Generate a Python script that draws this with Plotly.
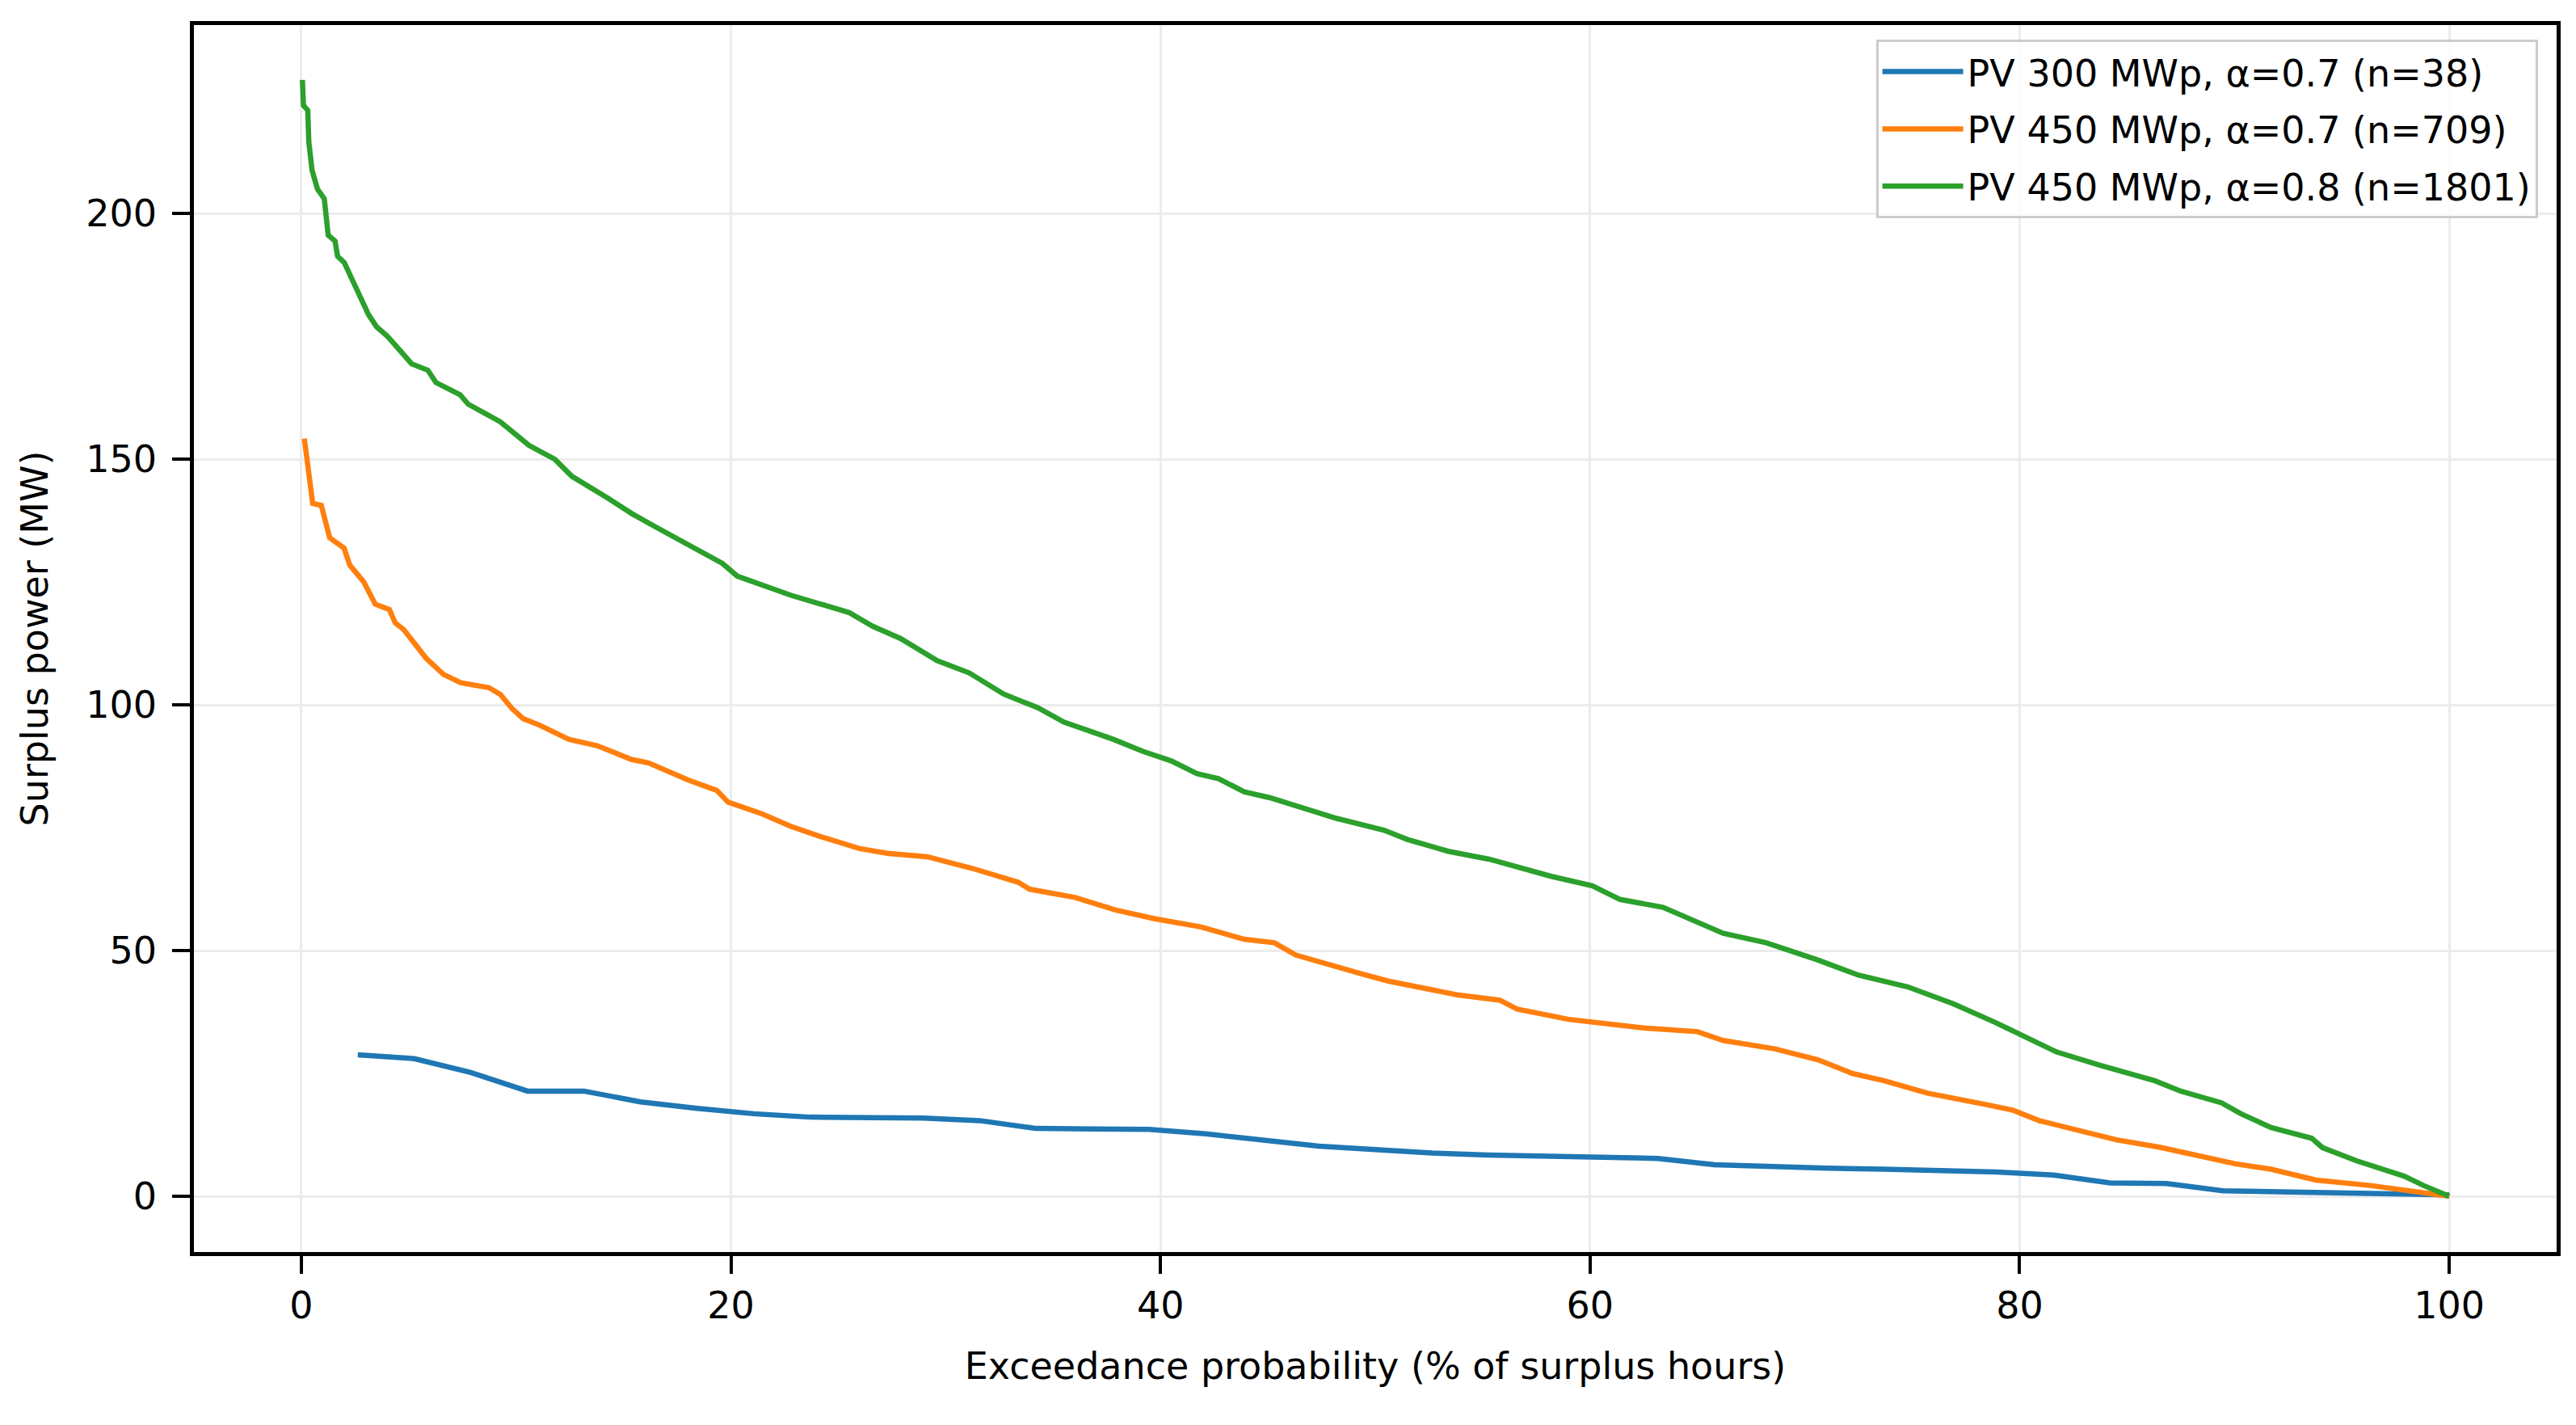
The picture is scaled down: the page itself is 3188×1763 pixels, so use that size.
import plotly.graph_objects as go

# ---- Data ----
series_names = [
    "PV 300 MWp, α=0.7 (n=38)",
    "PV 450 MWp, α=0.7 (n=709)",
    "PV 450 MWp, α=0.8 (n=1801)",
]
series_colors = ["#1f77b4", "#ff7f0e", "#2ca02c"]

# PV 300 MWp, alpha 0.7 : 38 surplus hours, exceedance i/38*100
blue_x = [2.63, 5.26, 7.89, 10.53, 13.16, 15.79, 18.42, 21.05, 23.68, 26.32,
          28.95, 31.58, 34.21, 36.84, 39.47, 42.11, 44.74, 47.37, 50.0, 52.63,
          55.26, 57.89, 60.53, 63.16, 65.79, 68.42, 71.05, 73.68, 76.32, 78.95,
          81.58, 84.21, 86.84, 89.47, 92.11, 94.74, 97.37, 100.0]
blue_y = [28.8, 28.0, 25.2, 21.4, 21.4, 19.2, 17.9, 16.8, 16.1, 15.9,
          15.9, 15.4, 13.8, 13.7, 13.6, 12.7, 11.4, 10.2, 9.5, 8.8,
          8.4, 8.1, 7.9, 7.7, 6.4, 6.0, 5.7, 5.5, 5.2, 4.95,
          4.3, 2.7, 2.6, 1.1, 0.9, 0.7, 0.5, 0.3]

# PV 450 MWp, alpha 0.7 : 709 surplus hours (read points)
orange_x = [0.14, 0.53, 0.93, 1.32, 1.99, 2.25, 2.91, 3.44, 4.1, 4.37,
            4.77, 5.83, 6.62, 7.42, 8.74, 9.27, 9.8, 10.33, 11.13, 12.45,
            13.77, 15.36, 16.16, 18.01, 19.34, 19.87, 21.46, 22.78, 24.1, 25.96,
            27.28, 29.14, 31.26, 33.38, 33.9, 36.03, 37.88, 39.7, 41.9, 43.9,
            45.3, 46.3, 49.4, 50.6, 53.8, 55.8, 56.6, 59.0, 62.6, 65.0,
            66.2, 68.6, 70.6, 72.2, 73.7, 75.7, 78.5, 79.7, 80.9, 82.5,
            84.5, 86.5, 88.8, 90.05, 91.7, 93.8, 96.3, 98.8, 100.0]
orange_y = [154.2, 141.0, 140.6, 134.0, 131.9, 128.5, 125.0, 120.5, 119.4, 116.7,
            115.3, 109.4, 106.2, 104.5, 103.5, 102.1, 99.3, 97.2, 95.8, 93.0,
            91.7, 88.9, 88.2, 84.7, 82.6, 80.2, 77.8, 75.3, 73.3, 70.8,
            69.8, 69.1, 66.7, 63.9, 62.5, 60.8, 58.3, 56.5, 54.8, 52.3,
            51.6, 49.1, 45.2, 43.8, 41.0, 39.9, 38.1, 36.0, 34.2, 33.5,
            31.7, 30.0, 27.8, 25.0, 23.5, 21.0, 18.6, 17.5, 15.4, 13.6,
            11.5, 10.0, 7.7, 6.6, 5.5, 3.3, 2.2, 0.85, 0.0]

# PV 450 MWp, alpha 0.8 : 1801 surplus hours (read points)
green_x = [0.05, 0.1, 0.3, 0.35, 0.5, 0.75, 1.07, 1.25, 1.57, 1.69,
           2.0, 2.32, 2.63, 3.13, 3.51, 4.01, 4.64, 5.14, 5.89, 6.27,
           7.39, 7.77, 9.27, 10.0, 10.6, 11.8, 12.6, 14.3, 15.4, 16.5,
           18.3, 19.6, 20.3, 22.8, 25.5, 26.6, 27.9, 29.6, 31.1, 32.7,
           34.3, 35.5, 37.8, 39.2, 40.5, 41.7, 42.7, 43.9, 45.1, 46.6,
           48.2, 50.4, 51.5, 53.4, 55.3, 58.2, 60.1, 61.4, 63.4, 66.2,
           68.2, 70.6, 72.5, 74.8, 76.9, 78.9, 80.5, 81.7, 83.7, 86.3,
           87.5, 89.4, 90.3, 91.7, 93.6, 94.1, 95.7, 97.2, 97.9, 98.8, 100.0]
green_y = [227.2, 222.0, 221.0, 214.5, 208.8, 205.0, 203.0, 195.6, 194.4, 191.3,
           190.0, 186.9, 184.4, 179.4, 176.9, 175.0, 171.9, 169.4, 168.1, 165.6,
           163.1, 161.2, 157.6, 155.0, 152.8, 150.0, 146.5, 142.0, 138.9, 136.2,
           131.9, 128.8, 126.2, 122.3, 118.8, 116.0, 113.5, 109.0, 106.5, 102.2,
           99.4, 96.5, 93.0, 90.5, 88.6, 86.0, 85.0, 82.3, 81.1, 79.2,
           76.9, 74.5, 72.6, 70.2, 68.6, 65.1, 63.2, 60.4, 58.8, 53.5,
           51.6, 48.1, 45.0, 42.6, 39.2, 35.3, 32.0, 29.4, 26.7, 23.5,
           21.4, 19.0, 16.8, 14.0, 11.8, 9.9, 7.2, 5.0, 4.1, 2.2, 0.0]

x_tick_vals = [0, 20, 40, 60, 80, 100]
y_tick_vals = [0, 50, 100, 150, 200]
x_title = "Exceedance probability (% of surplus hours)"
y_title = "Surplus power (MW)"

# ---- Figure ----
FONT = "DejaVu Sans"
fig = go.Figure()
for i, (name, color, xs, ys) in enumerate(zip(series_names, series_colors,
                                               [blue_x, orange_x, green_x],
                                               [blue_y, orange_y, green_y])):
    fig.add_trace(go.Scatter(x=xs, y=ys, mode="lines", name=name,
                             legendgroup=f"g{i}",
                             line=dict(color=color, width=6.5)))

axis_common = dict(
    showline=True, mirror=True, linecolor="black", linewidth=4.5,
    ticks="outside", ticklen=22, tickwidth=4, tickcolor="black",
    showgrid=True, gridcolor="#ececec", gridwidth=2.5,
    zeroline=False,
    tickfont=dict(family=FONT, size=46, color="black"),
)

fig.update_layout(
    width=3188, height=1763,
    margin=dict(l=240, r=24, t=31, b=214),
    paper_bgcolor="white", plot_bgcolor="white",
    font=dict(family=FONT, size=46, color="black"),
    xaxis=dict(range=[-5, 105], tickvals=x_tick_vals,
               title=dict(text=x_title, font=dict(family=FONT, size=46), standoff=34),
               **axis_common),
    yaxis=dict(range=[-11.35, 238.35], tickvals=y_tick_vals,
               ticklabelstandoff=10,
               title=dict(text=y_title, font=dict(family=FONT, size=46), standoff=34),
               **axis_common),
    legend=dict(x=0.992, y=0.988, xanchor="right", yanchor="top",
                bgcolor="rgba(255,255,255,0.85)", bordercolor="#cccccc",
                borderwidth=3, font=dict(family=FONT, size=46),
                itemwidth=100, traceorder="grouped", tracegroupgap=8),
    showlegend=True,
)

fig.write_html("out.html")
